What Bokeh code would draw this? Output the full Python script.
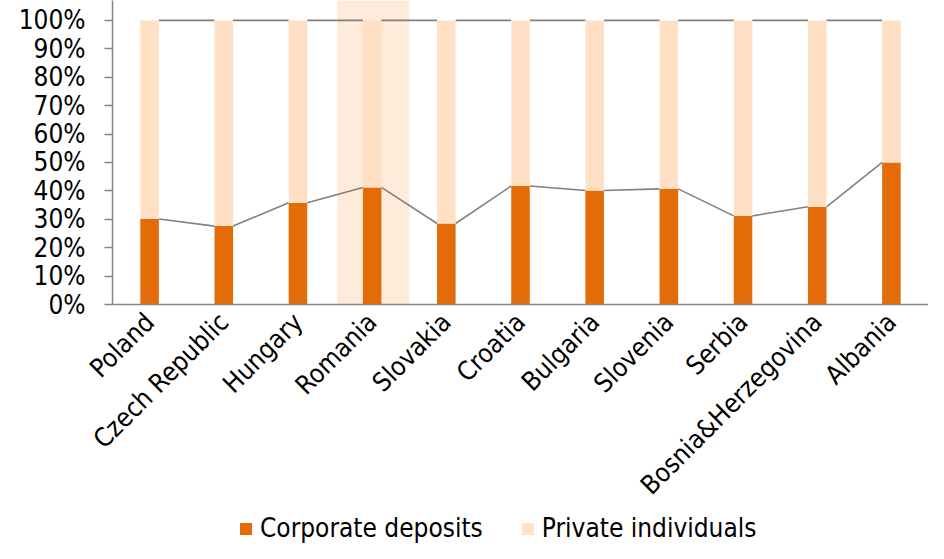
import math
from bokeh.plotting import figure
from bokeh.layouts import column
from bokeh.models import (ColumnDataSource, Range1d, FixedTicker, BoxAnnotation,
                          Legend, LegendItem)
from bokeh.embed import file_html
from bokeh.resources import INLINE

# ---- data ----
countries = ["Poland", "Czech Republic", "Hungary", "Romania", "Slovakia", "Croatia",
             "Bulgaria", "Slovenia", "Serbia", "Bosnia&Herzegovina", "Albania"]
corporate = [30.1, 27.6, 35.8, 41.2, 28.5, 41.7, 40.1, 40.7, 31.2, 34.4, 50.0]
private = [round(100 - c, 1) for c in corporate]
y_ticks = [0, 10, 20, 30, 40, 50, 60, 70, 80, 90, 100]
y_tick_labels = [f"{t}%" for t in y_ticks]
series_names = ["Corporate deposits", "Private individuals"]
highlight = "Romania"

# ---- style ----
FONT = "DejaVu Sans Condensed, DejaVu Sans"
FS = "26px"
ORANGE = "#E36C09"
PEACH = "#FFE0C4"
BAND = "#FFEBDA"
GRAY = "#808080"
BAR_W = 0.25

xc = [i + 0.5 for i in range(len(countries))]
totals = [c + p for c, p in zip(corporate, private)]
src = ColumnDataSource(dict(x=xc, corp=corporate, priv=private))

p = figure(width=928, height=513, output_backend="svg", toolbar_location=None,
           x_range=Range1d(0, len(countries)), y_range=Range1d(0, 107.0),
           min_border_left=112, min_border_right=0, min_border_top=0,
           min_border_bottom=200)
p.outline_line_color = None
p.xgrid.visible = False
p.ygrid.visible = False

# highlight band
hi = countries.index(highlight)
p.add_layout(BoxAnnotation(left=hi + 0.03, right=hi + 1.0, fill_color=BAND,
                           fill_alpha=1.0, line_color=None, level="underlay"))

# series lines (connect bar top corners)
def seg(vals):
    x0 = [xc[i] + BAR_W / 2 for i in range(len(vals) - 1)]
    x1 = [xc[i + 1] - BAR_W / 2 for i in range(len(vals) - 1)]
    return dict(x0=x0, x1=x1, y0=vals[:-1], y1=vals[1:])

p.segment(source=ColumnDataSource(seg(corporate)), x0="x0", y0="y0", x1="x1", y1="y1",
          line_color=GRAY, line_width=1.6)
p.segment(source=ColumnDataSource(seg(totals)), x0="x0", y0="y0", x1="x1", y1="y1",
          line_color=GRAY, line_width=1.6)

rs = p.vbar_stack(["corp", "priv"], x="x", width=BAR_W, color=[ORANGE, PEACH],
                  line_color=None, source=src)

# axes
p.yaxis.ticker = FixedTicker(ticks=y_ticks)
p.yaxis.major_label_overrides = {t: l for t, l in zip(y_ticks, y_tick_labels)}
p.yaxis.minor_tick_line_color = None
p.yaxis.major_tick_in = 0
p.yaxis.major_tick_out = 8
p.yaxis.axis_line_color = "#868686"
p.yaxis.major_tick_line_color = "#868686"
p.yaxis.axis_line_width = 1.5
p.yaxis.major_tick_line_width = 1.5
p.yaxis.major_label_text_font = FONT
p.yaxis.major_label_text_font_size = FS
p.yaxis.major_label_text_color = "black"
p.yaxis.major_label_standoff = 19

p.xaxis.ticker = FixedTicker(ticks=xc)
p.xaxis.major_label_overrides = {x: c for x, c in zip(xc, countries)}
p.xaxis.minor_tick_line_color = None
p.xaxis.major_tick_in = 0
p.xaxis.major_tick_out = 0
p.xaxis.axis_line_color = "#868686"
p.xaxis.axis_line_width = 1.5
p.xaxis.major_label_orientation = math.pi / 4
p.xaxis.major_label_text_font = FONT
p.xaxis.major_label_text_font_size = FS
p.xaxis.major_label_text_color = "black"
p.xaxis.major_label_standoff = 13

# legend in a slim strip below the chart (its bars fall outside the strip's ranges)
lg = figure(width=928, height=30, output_backend="svg", toolbar_location=None,
            x_range=Range1d(-100, -99), y_range=Range1d(-100, -99),
            x_axis_type=None, y_axis_type=None,
            min_border_left=0, min_border_right=0, min_border_top=0, min_border_bottom=0)
lg.outline_line_color = None
lg.xgrid.visible = False
lg.ygrid.visible = False
r0 = lg.vbar(x="x", top="corp", width=BAR_W, source=src, fill_color=ORANGE, line_color=None)
r1 = lg.vbar(x="x", top="priv", width=BAR_W, source=src, fill_color=PEACH, line_color=None)
legend = Legend(items=[LegendItem(label=series_names[0], renderers=[r0]),
                       LegendItem(label=series_names[1], renderers=[r1])],
                orientation="horizontal", location=(126, 0),
                label_text_font=FONT, label_text_font_size=FS, label_text_color="black",
                glyph_width=15, glyph_height=15, label_standoff=7, spacing=37,
                padding=0, margin=0, border_line_alpha=0, background_fill_alpha=0,
                label_height=30)
lg.add_layout(legend)

layout = column(p, lg, spacing=0)
open("out.html", "w").write(file_html(layout, INLINE))
